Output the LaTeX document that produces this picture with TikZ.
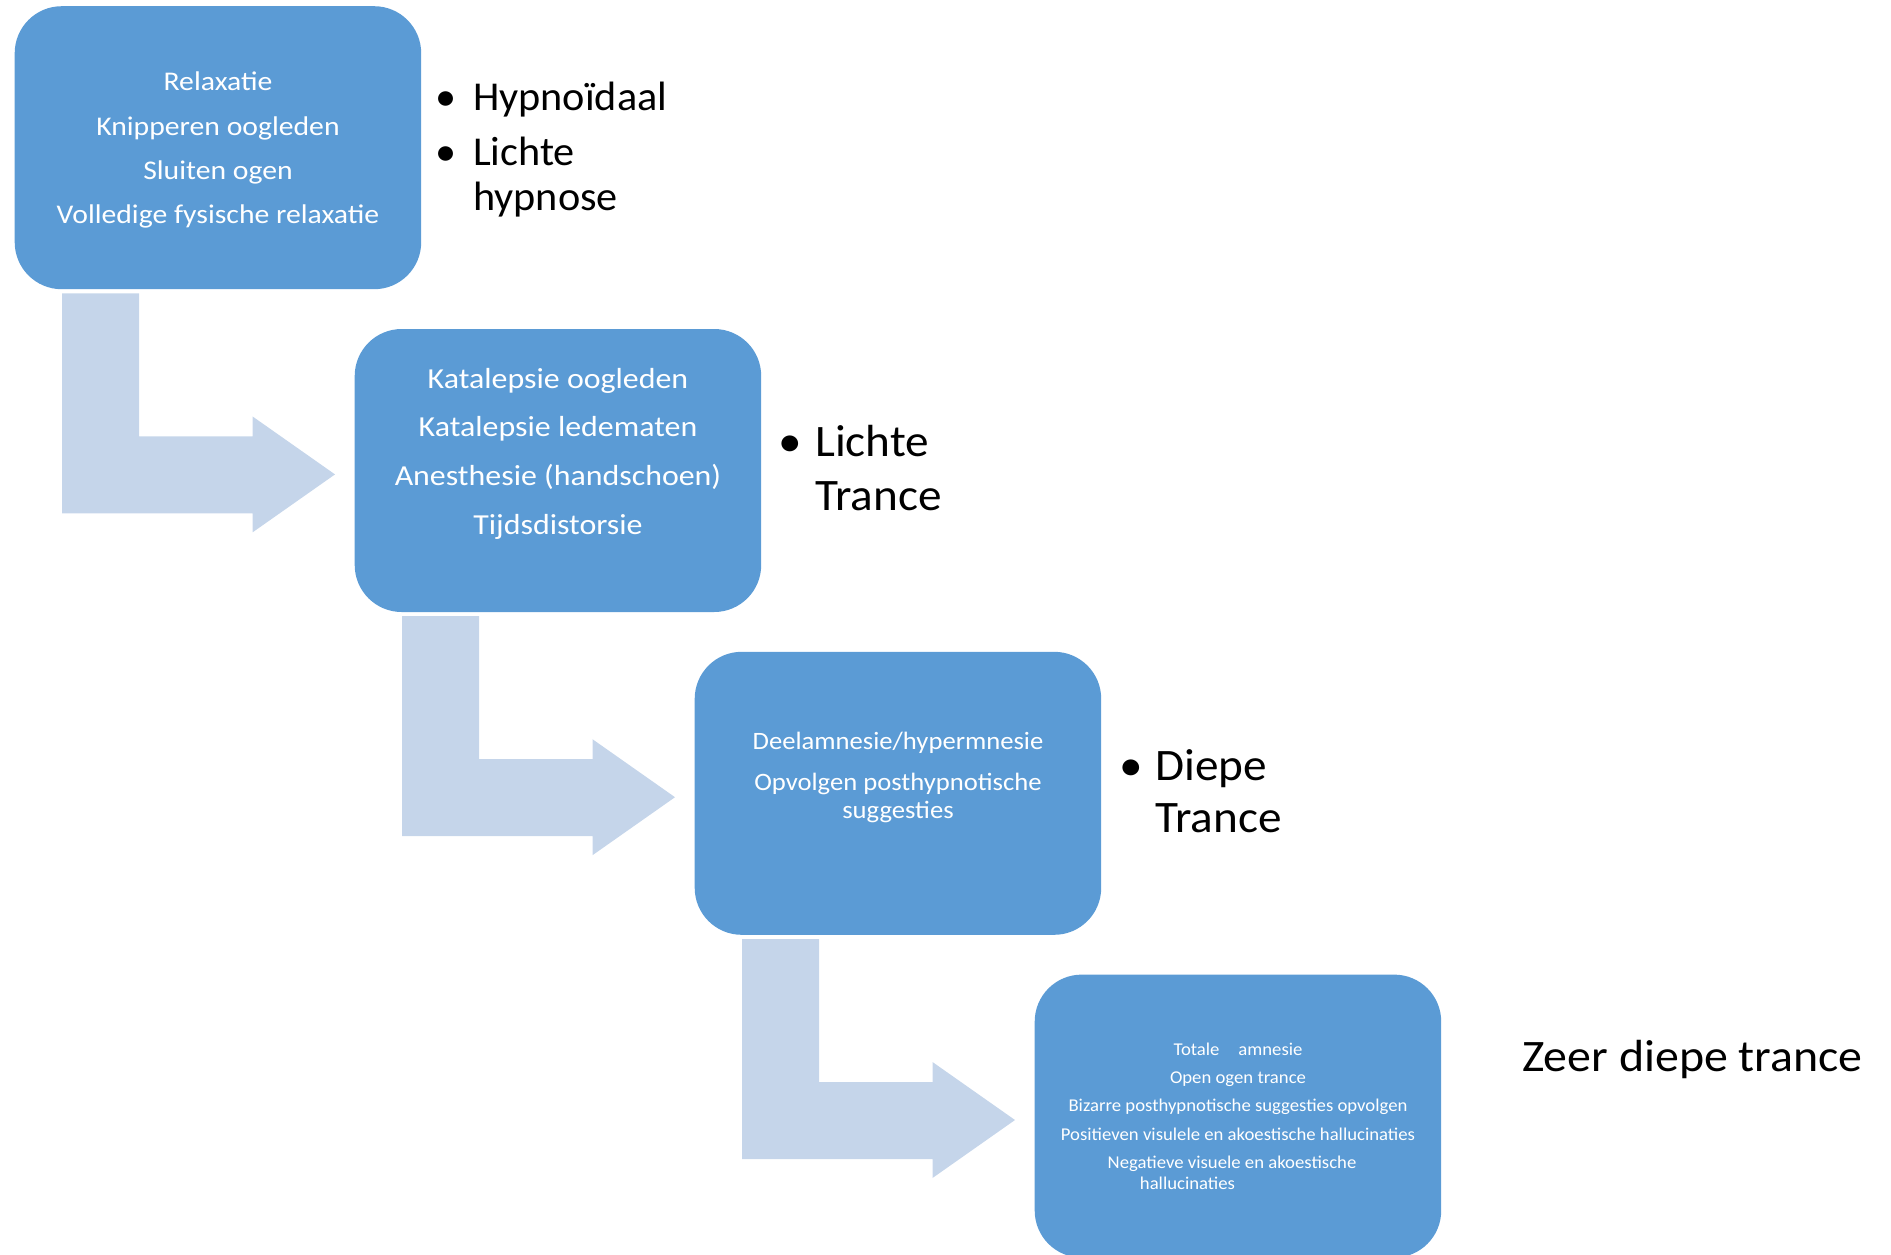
\documentclass[tikz,border=0pt]{standalone}
\usepackage{fontspec}
\setmainfont{Carlito}
\newfontfamily\stretchA[FakeStretch=1.10]{Carlito}
\newfontfamily\stretchB[FakeStretch=1.065]{Carlito}
\newfontfamily\stretchC[FakeStretch=1.04]{Carlito}
\newfontfamily\stretchD[FakeStretch=1.03]{Carlito}
\newfontfamily\stretchE[FakeStretch=1.05]{Carlito}
\newfontfamily\stretchF[FakeStretch=1.064]{Carlito}
\usetikzlibrary{calc}
\definecolor{boxblue}{HTML}{5B9BD5}
\definecolor{arrowblue}{HTML}{C5D5EA}
\tikzset{
  stagebox/.style={rectangle, rounded corners=47pt, fill=boxblue, minimum width=406.5pt, minimum height=283pt, inner sep=0pt, anchor=north west},
  bendarrow/.style={fill=arrowblue},
  boxline/.style={text=white, anchor=base, inner sep=0pt},
  sidetext/.style={anchor=base west, inner sep=0pt, text=black},
  fa/.style={font=\stretchA\fontsize{27}{32}\selectfont},
  fb/.style={font=\stretchA\fontsize{29}{34}\selectfont},
  fc/.style={font=\stretchB\fontsize{25}{29}\selectfont},
  fd/.style={font=\stretchC\fontsize{18}{21}\selectfont},
  fl/.style={font=\stretchD\fontsize{41}{46}\selectfont},
  fm/.style={font=\stretchE\fontsize{45}{52}\selectfont},
  fz/.style={font=\stretchF\fontsize{45}{52}\selectfont},
}
\begin{document}
\begin{tikzpicture}[x=1pt,y=-1pt]
\useasboundingbox (0,0) rectangle (1891,1254);
\clip (0,0) rectangle (1891,1254);
% boxes
\node[stagebox] (b1) at (14.5,6) {};
\node[stagebox] (b2) at (354.5,328.8) {};
\node[stagebox] (b3) at (694.5,651.6) {};
\node[stagebox] (b4) at (1034.5,974.4) {};
% bent arrows
\foreach \a in {b1,b2,b3} {
  \fill[bendarrow] ($(\a.south west)+(47.5,4)$) -- ($(\a.south west)+(124.5,4)$)
    -- ($(\a.south west)+(124.5,147)$) -- ($(\a.south west)+(238,147)$)
    -- ($(\a.south west)+(238,127)$) -- ($(\a.south west)+(320.5,185)$)
    -- ($(\a.south west)+(238,243)$) -- ($(\a.south west)+(238,224)$)
    -- ($(\a.south west)+(47.5,224)$) -- cycle;
}
% box 1 text
\foreach \txt/\yy [count=\i] in {Relaxatie/90, Knipperen oogleden/135, Sluiten ogen/179.3, Volledige fysische relaxatie/223.3}
  {\node[boxline, fa] (ta\i) at (218,\yy) {\txt};}
% box 2 text
\foreach \txt/\yy [count=\i] in {Katalepsie oogleden/388.3, Katalepsie ledematen/436.7, Anesthesie (handschoen)/485.7, Tijdsdistorsie/534.3}
  {\node[boxline, fb] (tb\i) at (558,\yy) {\txt};}
% box 3 text
\node[boxline, fc] (tc1) at (898,749.3) {Deelamnesie/hypermnesie};
\node[boxline, fc] (tc2) at (898,790) {Opvolgen posthypnotische};
\node[boxline, fc] (tc3) at (898,818.3) {suggesties};
% box 4 text
\node[boxline, fd] (td1) at (1238,1055) {Totale\hspace{19pt}amnesie};
\node[boxline, fd] (td2) at (1238,1083.3) {Open ogen trance};
\node[boxline, fd] (td3) at (1238,1111.7) {Bizarre posthypnotische suggesties opvolgen};
\node[boxline, fd] (td4) at (1238,1140) {Positieven visulele en akoestische hallucinaties};
\node[boxline, fd] (td5) at (1232,1168.3) {Negatieve visuele en akoestische};
\node[boxline, fd] (td6) at (1187.5,1189.3) {hallucinaties};
% side labels
\node[sidetext, fl] (la1) at (473,110) {\llap{•\hspace{16.5pt}}Hypnoïdaal};
\node[sidetext, fl] (la2) at (473,165) {\llap{•\hspace{16.5pt}}Lichte};
\node[sidetext, fl] (la3) at (473,210) {hypnose};
\node[sidetext, fm] (lb1) at (815,456.7) {\llap{•\hspace{13pt}}Lichte};
\node[sidetext, fm] (lb2) at (815,510) {Trance};
\node[sidetext, fm] (lc1) at (1155,780) {\llap{•\hspace{12pt}}Diepe};
\node[sidetext, fm] (lc2) at (1155,832.7) {Trance};
\node[sidetext, fz] (ld1) at (1522,1071.7) {Zeer diepe trance};
\end{tikzpicture}
\end{document}
